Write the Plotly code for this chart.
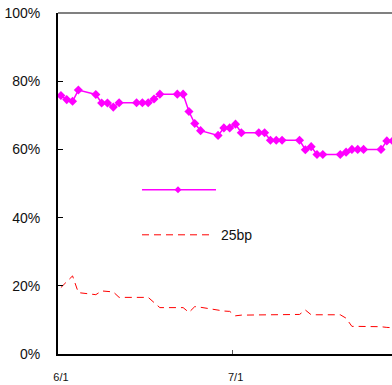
import plotly.graph_objects as go
import pandas as pd

# trading dates (2004)
dates = ["06-01","06-02","06-03","06-04","06-07","06-08","06-09","06-10","06-11",
         "06-14","06-15","06-16","06-17","06-18","06-21","06-22","06-23","06-24","06-25",
         "06-28","06-29","06-30","07-01","07-02","07-05","07-06","07-07","07-08","07-09",
         "07-12","07-13","07-14","07-15","07-16","07-19","07-20","07-21","07-22","07-23",
         "07-26","07-27","07-28"]
series_a = [75.8,74.6,74.1,77.4,76.1,73.6,73.6,72.4,73.7,
            73.7,73.7,73.7,74.8,76.2,76.2,76.2,71.1,67.6,65.5,
            64.1,66.3,66.3,67.4,64.9,64.9,64.9,62.7,62.7,62.7,
            62.7,59.9,60.8,58.5,58.5,58.5,59.2,60.0,60.0,60.0,
            60.0,62.5,62.5]
series_b = [19.5,21.2,22.9,18.0,17.4,18.5,18.4,18.2,16.6,
            16.6,16.6,16.6,15.1,13.6,13.6,13.6,12.2,13.9,13.7,
            12.8,12.6,12.5,11.2,11.4,11.4,11.5,11.5,11.5,11.5,
            11.6,12.9,11.5,11.5,11.5,11.5,10.5,8.1,8.1,8.1,
            8.0,7.8,7.7]
label_b = "25bp"
tick_dates = ["2004-05-31 12:00", "2004-06-30 12:00"]
tick_labels = ["6/1", "7/1"]
y_ticks = [0, 20, 40, 60, 80, 100]

x = pd.to_datetime(["2004-" + d for d in dates])

fig = go.Figure()
fig.add_trace(go.Scatter(x=x, y=series_b, mode="lines", name=label_b,
                         line=dict(color="#ff0000", width=1, dash="7px,5px"),
                         showlegend=False, hoverinfo="skip"))
fig.add_trace(go.Scatter(x=x, y=series_a, mode="lines+markers", name="",
                         line=dict(color="#ff00ff", width=1.5),
                         marker=dict(symbol="diamond", size=7, color="#ff00ff"),
                         showlegend=False, hoverinfo="skip"))

W, H = 392, 385
PL, PT, PB, PR = 58, 13, 354.3, 392   # plot area in window pixels
L, T, B, R = PL, PT, H - PB, W - PR
pw = PR - PL
ph = PB - PT

def px(xp):
    return (xp - PL) / pw

def py(yp):
    return (PB - yp) / ph

x0 = pd.Timestamp("2004-05-31 12:00")
x1 = x0 + pd.Timedelta(days=pw / 5.82)

shapes = [
    dict(type="path", xref="paper", yref="paper",
         path=f"M 0 1 L 1 1", line=dict(color="#808080", width=2)),
    dict(type="path", xref="paper", yref="paper",
         path=f"M {px(142)} {py(190)} L {px(216)} {py(190)}",
         line=dict(color="#ff00ff", width=1.5)),
    dict(type="path", xref="paper", yref="paper",
         path=f"M {px(178-3.5)} {py(190)} L {px(178)} {py(186.5)} L {px(178+3.5)} {py(190)} L {px(178)} {py(193.5)} Z",
         fillcolor="#ff00ff", line=dict(width=0)),
    dict(type="path", xref="paper", yref="paper",
         path=f"M {px(142)} {py(235)} L {px(209)} {py(235)}",
         line=dict(color="#ff0000", width=1, dash="7px,5px")),
]
annotations = [
    dict(xref="paper", yref="paper", x=px(219), y=py(235), text=label_b,
         showarrow=False, xanchor="left", yanchor="middle",
         font=dict(size=14, color="#111111", family="Liberation Sans, Arial"))
]

fig.update_layout(
    width=W, height=H,
    margin=dict(l=L, r=R, t=T, b=B, pad=0, autoexpand=False),
    paper_bgcolor="white", plot_bgcolor="white",
    showlegend=False, hovermode=False,
    font=dict(family="Liberation Sans, Arial", color="#111111"),
    shapes=shapes, annotations=annotations,
    xaxis=dict(range=[x0, x1], tickvals=pd.to_datetime(tick_dates), ticktext=tick_labels,
               automargin=False, ticklabeloverflow="allow",
               showgrid=False, zeroline=False, showline=True, linecolor="black", linewidth=2,
               ticks="inside", ticklen=4, tickcolor="#555555", tickwidth=1,
               tickfont=dict(size=11, color="#111111"), ticklabelstandoff=12, ticklabelshift=3),
    yaxis=dict(range=[0, 100], tickvals=y_ticks, ticktext=[f"{v}%" for v in y_ticks],
               automargin=False, ticklabeloverflow="allow",
               showgrid=False, zeroline=False, showline=True, linecolor="black", linewidth=2,
               ticks="inside", ticklen=5, tickcolor="black", tickwidth=1,
               tickfont=dict(size=14, color="#111111"), ticklabelstandoff=13),
)

css = ("document.documentElement.style.margin='0';"
       "document.body.style.margin='0';document.body.style.padding='0';"
       "document.body.style.overflow='hidden';")
fig.write_html("out.html", post_script=css, config={"displayModeBar": False, "staticPlot": True})
